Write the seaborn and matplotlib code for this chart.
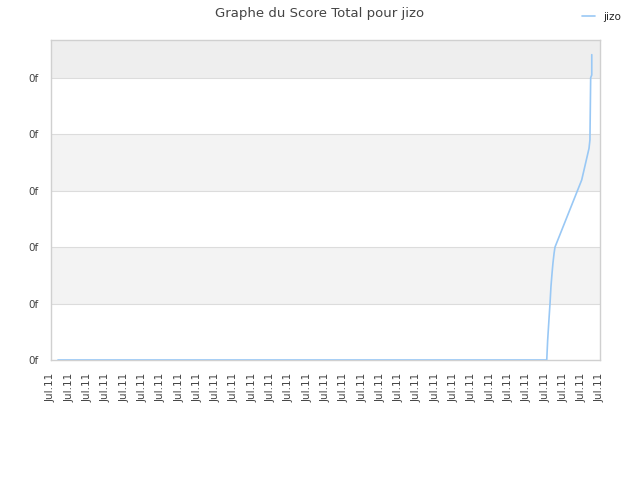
import numpy as np
import matplotlib
matplotlib.use("Agg")
import matplotlib.pyplot as plt
import seaborn as sns

# score series (x in tick units, y in grid units)
x_vals = [0.38, 27.09, 27.14, 27.21, 27.27, 27.32, 27.38, 27.43, 27.49, 27.54,
          29.0, 29.40, 29.45, 29.49, 29.55, 29.55]
y_vals = [0.0, 0.0, 0.35, 0.71, 1.01, 1.30, 1.54, 1.72, 1.89, 2.0,
          3.19, 3.75, 3.90, 5.0, 5.05, 5.41]
series_name = "jizo"
x_labels = ["Jul.11"] * 31
y_labels = ["0f"] * 6

sns.set_theme(style="white")
plt.rcParams['font.family'] = ['DejaVu Sans']

fig = plt.figure(figsize=(6.4, 4.8), dpi=100)
ax = fig.add_axes([51 / 640, 120 / 480, 549 / 640, 320 / 480])

# alternating bands
ymax = 5.67
ax.axhspan(5, ymax, color="#eeeeee", zorder=0, lw=0)
ax.axhspan(3, 4, color="#f3f3f3", zorder=0, lw=0)
ax.axhspan(1, 2, color="#f3f3f3", zorder=0, lw=0)
for yy in range(1, 6):
    ax.axhline(yy, color="#dcdcdc", lw=0.8, zorder=1)

sns.lineplot(x=x_vals, y=y_vals, sort=False, estimator=None, ax=ax,
             color="#99c8f5", lw=1.2, label=series_name, zorder=3)

ax.set_xlim(0, 30)
ax.set_ylim(0, ymax)
ax.set_xticks(np.arange(len(x_labels)))
ax.set_xticklabels(x_labels, rotation=90, fontsize=7.5, color="#444444")
ax.set_yticks(np.arange(len(y_labels)))
ax.set_yticklabels(y_labels, fontsize=7.5, color="#444444")
ax.tick_params(axis="x", length=0, pad=9)
ax.tick_params(axis="y", length=0, pad=9)

for s in ax.spines.values():
    s.set_color("#d0d0d0")
    s.set_linewidth(1)

fig.suptitle("Graphe du Score Total pour jizo", x=0.5, y=0.985, fontsize=9.5, color="#444444")
ax.legend(loc="upper right", bbox_to_anchor=(0.985, 0.995), bbox_transform=fig.transFigure,
          frameon=False, fontsize=7.5, handlelength=1.2, handletextpad=0.8)

fig.savefig("out.png", dpi=100)
